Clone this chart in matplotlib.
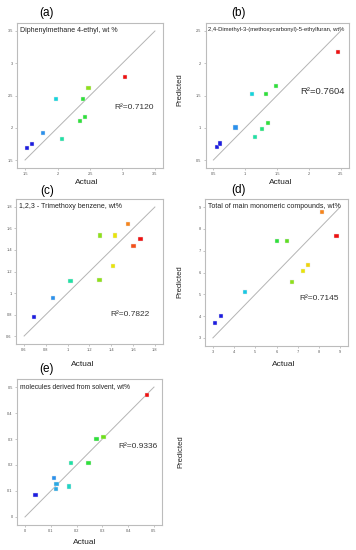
"""
Actual vs predicted parity plots, five compounds
"""
import numpy as np
import matplotlib
matplotlib.use('Agg')
import matplotlib.pyplot as plt

plt.rcParams['font.family'] = ['Liberation Sans', 'DejaVu Sans']

# data: actual / predicted per panel
act_a = [1.536, 1.603, 1.779, 1.975, 2.063, 2.342, 2.389, 2.42, 2.477, 3.045]
pre_a = [1.685, 1.746, 1.92, 2.449, 1.823, 2.10, 2.449, 2.172, 2.613, 2.79]
act_b = [0.556, 0.607, 0.847, 1.102, 1.148, 1.27, 1.332, 1.357, 1.49, 2.459]
pre_b = [0.706, 0.757, 1.004, 1.523, 0.86, 0.978, 1.523, 1.07, 1.647, 2.176]
act_c = [0.689, 0.868, 1.025, 1.292, 1.298, 1.418, 1.431, 1.557, 1.603, 1.668]
pre_c = [0.775, 0.954, 1.111, 1.123, 1.535, 1.252, 1.535, 1.643, 1.44, 1.50]
act_d = [3.09, 3.40, 4.50, 6.01, 6.50, 6.73, 7.24, 7.49, 8.16, 8.83]
pre_d = [3.70, 3.99, 5.09, 7.44, 7.44, 5.55, 6.08, 6.33, 8.76, 7.66]
act_e = [0.041, 0.113, 0.122, 0.121, 0.171, 0.179, 0.246, 0.277, 0.304, 0.474]
pre_e = [0.086, 0.149, 0.128, 0.108, 0.117, 0.208, 0.208, 0.30, 0.309, 0.471]

titles = ['Diphenylmethane 4-ethyl, wt %',
          '2,4-Dimethyl-3-(methoxycarbonyl)-5-ethylfuran, wt%',
          '1,2,3 - Trimethoxy benzene, wt%',
          'Total of main monomeric compounds, wt%',
          'molecules derived from solvent, wt%']
r2 = ['0.7120', '0.7604', '0.7822', '0.7145', '0.9336']
letters = ['(a)', '(b)', '(c)', '(d)', '(e)']
ticks = [[1.5, 2, 2.5, 3, 3.5],
         [0.5, 1, 1.5, 2, 2.5],
         [0.6, 0.8, 1.0, 1.2, 1.4, 1.6, 1.8],
         [3, 4, 5, 6, 7, 8, 9],
         [0, 0.1, 0.2, 0.3, 0.4, 0.5]]

# point colours (rainbow-like)
B, DB, CY, AQ, GR, YG, YE, OR, OE, RE = ('#1c1ce0', '#2a90ec', '#14d4dc',
    '#20e0a4', '#2ee03a', '#8ee01a', '#e8e40a', '#f7841a', '#f4501a', '#ee1010')
cols = [[B, B, DB, CY, AQ, GR, GR, GR, YG, RE],
        [B, B, DB, CY, AQ, '#22e27a', GR, GR, GR, RE],
        [B, DB, AQ, YG, YG, YE, YE, OR, OE, RE],
        [B, B, '#18c8e4', GR, '#5ede22', YG, YE, '#f0d408', OR, RE],
        [B, DB, '#2aa8e4', '#2aa8e4', '#20d4c4', AQ, GR, GR, '#6ee01a', RE]]

# layout in pixels (left, right, top, bottom)
W, H = 356.0, 550.0
boxes = [(17, 163, 23, 168), (205.5, 348.5, 23, 168), (16, 163, 199, 344),
         (205, 348, 199, 346), (17, 162, 379, 525)]
title_fs = [5.0, 4.2, 5.0, 5.0, 4.9]
r2_pos = [(0.67, 0.42), (0.66, 0.53), (0.64, 0.20), (0.66, 0.32), (0.70, 0.54)]
r2_fs = [6.0, 6.8, 6.0, 6.0, 6.0]
letter_xy = [(47, 13), (238, 13), (47, 191), (239, 190), (47, 369)]
actual_xy = [(87, 183), (281, 183), (83, 364), (284, 364), (85, 543)]
pred_xy = [(180, 90), (180, 282), (180.5, 452)]

data = [(act_a, pre_a), (act_b, pre_b), (act_c, pre_c), (act_d, pre_d), (act_e, pre_e)]

fig = plt.figure(figsize=(W / 100, H / 100), dpi=100)
fig.patch.set_facecolor('white')

for i, (act, pre) in enumerate(data):
    l, r, t, b = boxes[i]
    ax = fig.add_axes([l / W, 1 - b / H, (r - l) / W, (b - t) / H])
    tk = ticks[i]
    lo, hi = tk[0], tk[-1]
    pad = 0.062 * (hi - lo)
    ax.plot([lo, hi], [lo, hi], '-', color='#b4b4b4', lw=0.7, zorder=1)
    ax.scatter(act, pre, s=9, marker='s', c=cols[i], edgecolors='#e8e8e8',
               linewidths=0.3, zorder=3)
    ax.set_xlim(lo - pad, hi + pad)
    ax.set_ylim(lo - pad, hi + pad)
    ax.set_xticks(tk)
    ax.set_yticks(tk)
    lab = ['%g' % v for v in tk]
    ax.set_xticklabels(lab)
    ax.set_yticklabels(lab)
    ax.tick_params(labelsize=2.8, length=1.5, width=0.4, pad=1.5,
                   colors='#9a9a9a', labelcolor='#555555')
    for s in ax.spines.values():
        s.set_color('#bcbcbc')
        s.set_linewidth(0.8)
    ax.text(0.02, 0.97, titles[i], transform=ax.transAxes, ha='left', va='top',
            fontsize=title_fs[i], color='#222222')
    ax.text(r2_pos[i][0], r2_pos[i][1], 'R\u00b2=' + r2[i], transform=ax.transAxes,
            ha='left', va='center', fontsize=r2_fs[i], color='#333333')

# panel letters and axis labels
for (x, y), s in zip(letter_xy, letters):
    fig.text(x / W, 1 - y / H, s, ha='center', va='center', fontsize=8.5)
for x, y in actual_xy:
    fig.text(x / W, 1 - y / H, 'Actual', ha='center', va='center', fontsize=6,
             color='#222222')
for x, y in pred_xy:
    fig.text(x / W, 1 - y / H, 'Predicted', ha='center', va='center',
             fontsize=5.5, rotation=90, color='#222222')

fig.savefig('out.png', dpi=100)
